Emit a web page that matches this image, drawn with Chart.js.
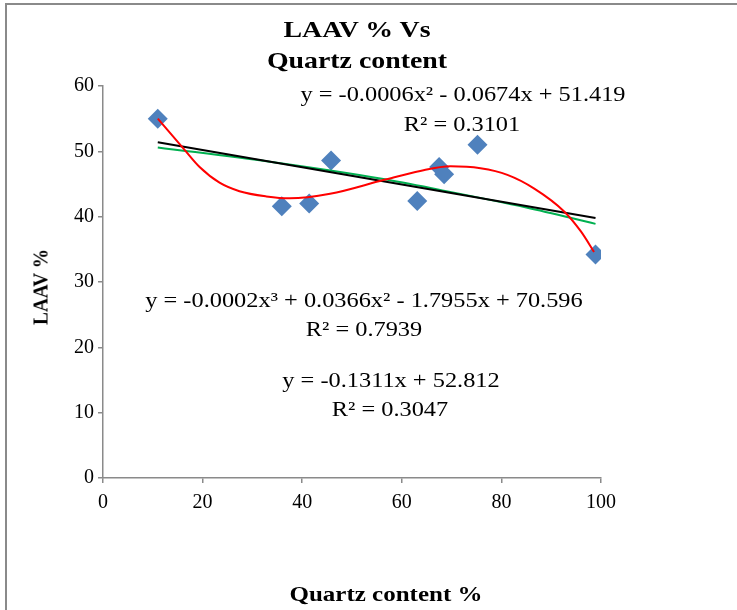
<!DOCTYPE html>
<html><head><meta charset="utf-8">
<script src="https://cdn.jsdelivr.net/npm/chart.js@4.4.0/dist/chart.umd.min.js"></script>
<style>
html,body{margin:0;padding:0;width:737px;height:610px;overflow:hidden;background:#fff;}
#frame{position:absolute;left:5px;top:3px;width:900px;height:900px;border-left:2px solid #8a8a8a;border-top:2px solid #8a8a8a;}
#c{position:absolute;left:0;top:0;}
.t{position:absolute;font-family:"Liberation Serif",serif;color:#000;white-space:nowrap;line-height:1;transform:translateX(-50%) scaleX(1.16);}
.eq{font-size:21px;}
.ttl{font-size:24px;font-weight:bold;}
.ax{font-size:21px;font-weight:bold;transform:translateX(-50%) scaleX(1.19);}
.ay{font-size:21px;font-weight:bold;transform:translate(-50%,-50%) rotate(-90deg) scaleX(0.92);}
</style></head>
<body>
<div id="frame"></div>
<canvas id="c" width="737" height="610"></canvas>
<div class="t ttl" style="left:357px;top:17px;">LAAV % Vs</div>
<div class="t ttl" style="left:357px;top:48px;">Quartz content</div>
<div class="t eq" style="left:463px;top:84px;">y = -0.0006x² - 0.0674x + 51.419</div>
<div class="t eq" style="left:462px;top:114px;">R² = 0.3101</div>
<div class="t eq" style="left:364px;top:290px;">y = -0.0002x³ + 0.0366x² - 1.7955x + 70.596</div>
<div class="t eq" style="left:364px;top:319px;">R² = 0.7939</div>
<div class="t eq" style="left:391px;top:370px;">y = -0.1311x + 52.812</div>
<div class="t eq" style="left:390px;top:399px;">R² = 0.3047</div>
<div class="t ax" style="left:386px;top:584px;">Quartz content %</div>
<div class="t ay" style="left:41px;top:287px;">LAAV %</div>
<script>
const quartzContent = [11, 35.9, 41.4, 45.8, 63.1, 67.5, 68.5, 75.2, 98.9];
const laav = [55.0, 41.6, 42.0, 48.6, 42.4, 47.6, 46.5, 51.0, 34.2];
// Polynomial (order 3) trend line
const cubicX = [11, 16.3, 19.4, 23.4, 27.4, 32.8, 37.5, 45.6, 56.3, 63.7, 69.8, 75.8, 81.2, 86.6, 92.6, 96, 98.6];
const cubicY = [55.0, 50.3, 47.6, 45.2, 43.9, 43.1, 42.8, 43.5, 45.6, 47.0, 47.7, 47.4, 46.4, 44.3, 40.8, 37.7, 34.6];
// Linear trend line (black)
const linearX = [11, 98.9];
const linearY = [51.4, 39.8];
// Polynomial (order 2) trend line (green)
const quadX = [11, 33.5, 56, 67.7, 85, 98.9];
const quadY = [50.6, 48.4, 45.8, 44.1, 41.4, 38.9];
// Axis ticks
const xTicks = [0, 20, 40, 60, 80, 100];
const yTicks = [0, 10, 20, 30, 40, 50, 60];

const pts = (xs, ys) => xs.map((x, i) => ({x: x, y: ys[i]}));
const axisGray = '#8a8a8a';
const tickFont = {family: '"Liberation Serif", serif', size: 20};

new Chart(document.getElementById('c'), {
  type: 'scatter',
  data: {
    datasets: [
      {label: 'Poly3', type: 'line', data: pts(cubicX, cubicY), borderColor: '#ff0000', borderWidth: 2, pointRadius: 0, cubicInterpolationMode: 'monotone', fill: false, order: 0},
      {label: 'Linear', type: 'line', data: pts(linearX, linearY), borderColor: '#000000', borderWidth: 2, pointRadius: 0, tension: 0, fill: false, order: 1},
      {label: 'Poly2', type: 'line', data: pts(quadX, quadY), borderColor: '#00b050', borderWidth: 2, pointRadius: 0, cubicInterpolationMode: 'monotone', fill: false, order: 2},
      {label: 'LAAV %', data: pts(quartzContent, laav), pointStyle: 'rectRot', pointRadius: 10, pointHoverRadius: 10, backgroundColor: '#4f81bd', borderColor: '#4f81bd', borderWidth: 0, order: 3}
    ]
  },
  options: {
    responsive: false,
    animation: false,
    events: [],
    layout: {padding: {left: 0, right: 136, top: 86, bottom: 0}},
    plugins: {legend: {display: false}, tooltip: {enabled: false}, title: {display: false}},
    scales: {
      x: {
        type: 'linear', min: xTicks[0], max: xTicks[xTicks.length - 1],
        afterBuildTicks: s => { s.ticks = xTicks.map(v => ({value: v})); },
        ticks: {font: tickFont, color: '#000', padding: 8, maxRotation: 0},
        grid: {drawOnChartArea: false, tickLength: 5, color: axisGray, lineWidth: 1.5},
        border: {color: axisGray, width: 1.5},
        afterFit: s => { s.height = 132; }
      },
      y: {
        type: 'linear', min: yTicks[0], max: yTicks[yTicks.length - 1],
        afterBuildTicks: s => { s.ticks = yTicks.map(v => ({value: v})); },
        ticks: {font: tickFont, color: '#000', padding: 4},
        grid: {drawOnChartArea: false, tickLength: 5, color: axisGray, lineWidth: 1.5},
        border: {color: axisGray, width: 1.5},
        afterFit: s => { s.width = 103; }
      }
    }
  }
});
</script>
</body></html>
